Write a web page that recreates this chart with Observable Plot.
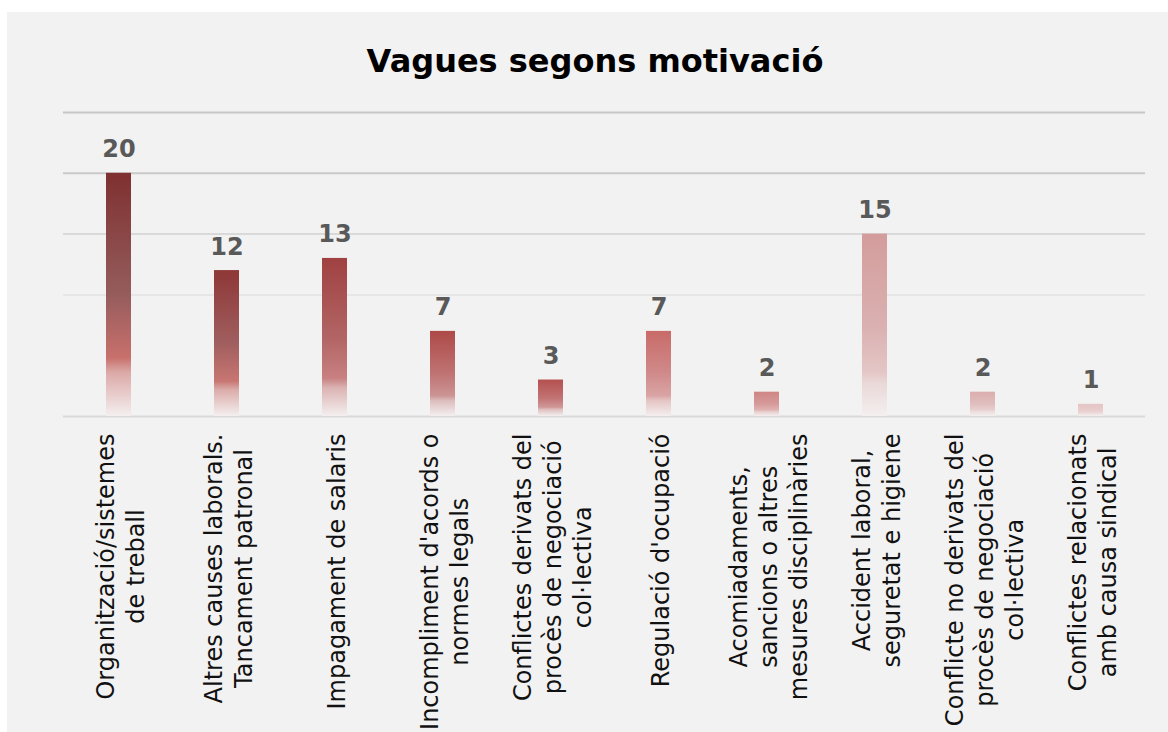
<!DOCTYPE html>
<html>
<head>
<meta charset="utf-8">
<script src="https://cdn.jsdelivr.net/npm/d3@7"></script>
<script src="https://cdn.jsdelivr.net/npm/@observablehq/plot@0.6"></script>
<style>
  html, body { margin: 0; padding: 0; background: #ffffff; overflow: hidden; width: 1168px; height: 732px; }
  #panel { position: absolute; left: 7px; top: 12px; width: 1161px; height: 720px; background: #f2f2f2; }
  #title { position: absolute; left: 0; top: 33px; width: 1176px; text-align: center;
           font-family: "DejaVu Sans", sans-serif; font-weight: bold; font-size: 32px; line-height: 32px; color: #000; }
  #chart { position: absolute; left: 0; top: 78px; }
</style>
</head>
<body>
<div id="panel">
  <div id="title">Vagues segons motivació</div>
  <div id="chart"></div>
</div>
<script>
// ---- data ----
const categories = [
  "Organització/sistemes\nde treball",
  "Altres causes laborals.\nTancament patronal",
  "Impagament de salaris",
  "Incompliment d'acords o\nnormes legals",
  "Conflictes derivats del\nprocès de negociació\ncol·lectiva",
  "Regulació d'ocupació",
  "Acomiadaments,\nsancions o altres\nmesures disciplinàries",
  "Accident laboral,\nseguretat e higiene",
  "Conflicte no derivats del\nprocès de negociació\ncol·lectiva",
  "Conflictes relacionats\namb causa sindical"
];
const values = [20, 12, 13, 7, 3, 7, 2, 15, 2, 1];
const gridValues = [0, 10, 15, 20, 25];

// ---- styles ----
const gridColors = ["#d9d9d9", "#e6e6e6", "#d9d9d9", "#c9c9c9", "#c6c6c6"];
// gradient stops per bar: top, middle, low
const barStops = [
  ["#7f3030", "#955c5c", "#c8706c"],
  ["#8e3737", "#a05e5e", "#c87672"],
  ["#a04141", "#b26464", "#c88080"],
  ["#ad4a48", "#bf7373", "#cc9494"],
  ["#b55050", "#c27272", "#d09898"],
  ["#c86b69", "#d08a8a", "#daa4a4"],
  ["#cf8584", "#d69a9a", "#e0b4b4"],
  ["#d49c9c", "#dab0b0", "#e4c6c6"],
  ["#dbaeae", "#e0bebe", "#e8d0d0"],
  ["#e6c4c4", "#e8cccc", "#eed8d8"]
];

const rows = categories.map((c, i) => ({cat: c, value: values[i], fill: `url(#bargrad${i})`}));
const grid = gridValues.map((v, i) => ({v, stroke: gridColors[i]}));

const font = "DejaVu Sans, sans-serif";

const chart = Plot.plot({
  width: 1161,
  height: 642,
  marginLeft: 56,
  marginRight: 23,
  marginTop: 22,
  marginBottom: 316,
  style: {background: "transparent", fontFamily: font},
  x: {domain: categories, paddingInner: 0.77, paddingOuter: 0.385, axis: null},
  y: {domain: [0, 25], axis: null},
  color: {type: "identity"},
  marks: [
    Plot.ruleY(grid, {y: "v", stroke: "stroke", strokeWidth: 2}),
    Plot.barY(rows, {x: "cat", y: "value", fill: "fill"}),
    Plot.text(rows, {x: "cat", y: "value", text: d => String(d.value), lineAnchor: "bottom", dy: -16,
      fontSize: 24, fontWeight: "bold", fill: "#595959", fontFamily: font}),
    Plot.text(rows, {x: "cat", text: "cat", frameAnchor: "bottom", rotate: -90, textAnchor: "end",
      lineAnchor: "middle", lineHeight: 1.25, dy: 17, fontSize: 24, fill: "#111111", fontFamily: font,
      className: "xlabels"})
  ]
});

// gradients
const svg = d3.select(chart);
const defs = svg.insert("defs", ":first-child");
barStops.forEach((s, i) => {
  const g = defs.append("linearGradient").attr("id", `bargrad${i}`)
    .attr("x1", 0).attr("y1", 0).attr("x2", 0).attr("y2", 1);
  const low = s[2];
  const fade = d3.interpolateRgb(low, "#f2eeee")(0.45);
  [[0, s[0]], [0.5, s[1]], [0.76, low], [0.82, fade], [1, "#f4efef"]].forEach(([o, c]) => {
    g.append("stop").attr("offset", o).attr("stop-color", c);
  });
});

document.getElementById("chart").appendChild(chart);

// center multiline axis labels within their block, block top-aligned
svg.selectAll(".xlabels text").each(function() {
  const t = this;
  const spans = t.querySelectorAll("tspan");
  let L = 0;
  if (spans.length) {
    spans.forEach(s => { L = Math.max(L, s.getComputedTextLength()); });
    t.setAttribute("text-anchor", "middle");
    spans.forEach(s => s.setAttribute("x", -L / 2));
  } else {
    L = t.getComputedTextLength();
    t.setAttribute("text-anchor", "middle");
    t.setAttribute("x", -L / 2);
  }
});
</script>
</body>
</html>
